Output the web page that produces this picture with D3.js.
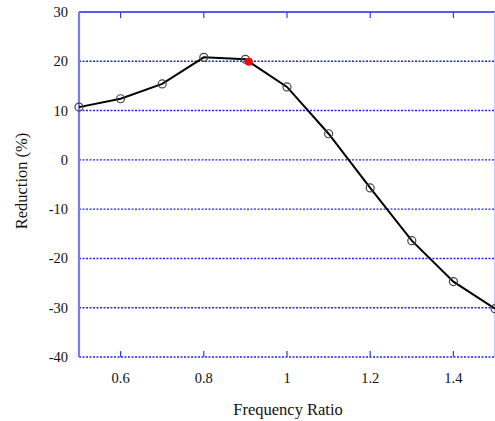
<!DOCTYPE html>
<html>
<head>
<meta charset="utf-8">
<script src="https://cdn.jsdelivr.net/npm/d3@7"></script>
<style>
body { margin:0; background:#fff; }
text { font-family: "Liberation Serif", "DejaVu Serif", serif; }
</style>
</head>
<body>
<svg id="chart" width="495" height="421"></svg>
<script>
// data
var ratios = [0.5, 0.6, 0.7, 0.8, 0.9, 1.0, 1.1, 1.2, 1.3, 1.4, 1.5];
var reduction = [10.7, 12.4, 15.4, 20.8, 20.4, 14.8, 5.3, -5.7, -16.4, -24.7, -30.2];
var marked = [0.908, 19.9];
var xTicks = [0.6, 0.8, 1, 1.2, 1.4];
var yTicks = [-40, -30, -20, -10, 0, 10, 20, 30];

var svg = d3.select("#chart");
var pLeft = 79, pRight = 495, pTop = 12, pBottom = 357;

var x = d3.scaleLinear().domain([0.5, 1.5]).range([pLeft, pRight]);
var y = d3.scaleLinear().domain([-40, 30]).range([pBottom, pTop]);

// grid lines
svg.append("g").selectAll("line").data(yTicks).enter().append("line")
	.attr("x1", pLeft).attr("x2", pRight)
	.attr("y1", function(d){ return y(d); })
	.attr("y2", function(d){ return y(d); })
	.attr("stroke", "#2222e6")
	.attr("stroke-width", 1.4)
	.attr("stroke-dasharray", function(d){ return d==30 ? null : "2,1.5"; });

// x axis ticks (inward, top and bottom)
svg.append("g").selectAll("line").data(xTicks).enter().append("line")
	.attr("x1", function(d){ return x(d); }).attr("x2", function(d){ return x(d); })
	.attr("y1", pBottom).attr("y2", pBottom-6)
	.attr("stroke", "#3a3ae0").attr("stroke-width", 1.2);
svg.append("g").selectAll("line").data(xTicks).enter().append("line")
	.attr("x1", function(d){ return x(d); }).attr("x2", function(d){ return x(d); })
	.attr("y1", pTop).attr("y2", pTop+6)
	.attr("stroke", "#3a3ae0").attr("stroke-width", 1.2);

// left spine
svg.append("line")
	.attr("x1", pLeft).attr("x2", pLeft).attr("y1", pTop).attr("y2", pBottom)
	.attr("stroke", "#7b7bef").attr("stroke-width", 2.2);
svg.append("line")
	.attr("x1", pRight-0.5).attr("x2", pRight-0.5).attr("y1", pTop).attr("y2", pBottom)
	.attr("stroke", "#c8c8f6").attr("stroke-width", 1);

// tick labels
svg.append("g").selectAll("text").data(yTicks).enter().append("text")
	.attr("x", 68).attr("y", function(d){ return y(d)+5; })
	.attr("text-anchor", "end").attr("font-size", 14.5).attr("fill", "#111")
	.text(function(d){ return d; });
svg.append("g").selectAll("text").data(xTicks).enter().append("text")
	.attr("x", function(d){ return x(d); }).attr("y", 383)
	.attr("text-anchor", "middle").attr("font-size", 14.5).attr("fill", "#111")
	.text(function(d){ return d; });

// axis titles
svg.append("text").attr("x", 288).attr("y", 415)
	.attr("text-anchor", "middle").attr("font-size", 16.5).attr("fill", "#111")
	.text("Frequency Ratio");
svg.append("text").attr("transform", "translate(27,181) rotate(-90)")
	.attr("text-anchor", "middle").attr("font-size", 16.5).attr("fill", "#111")
	.text("Reduction (%)");

// curve
var pts = ratios.map(function(r, i){ return [r, reduction[i]]; });
var line = d3.line().x(function(d){ return x(d[0]); }).y(function(d){ return y(d[1]); });
svg.append("path").datum(pts).attr("d", line)
	.attr("fill", "none").attr("stroke", "#000").attr("stroke-width", 2);

svg.append("g").selectAll("circle").data(pts).enter().append("circle")
	.attr("cx", function(d){ return x(d[0]); })
	.attr("cy", function(d){ return y(d[1]); })
	.attr("r", 4).attr("fill", "none")
	.attr("stroke", "#444").attr("stroke-width", 1.2);

svg.append("circle")
	.attr("cx", x(marked[0])).attr("cy", y(marked[1]))
	.attr("r", 4).attr("fill", "#f00");
</script>
</body>
</html>
